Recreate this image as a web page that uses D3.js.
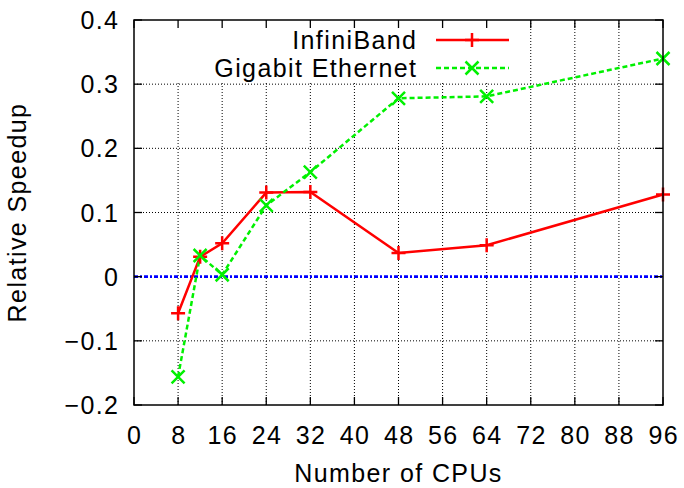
<!DOCTYPE html>
<html><head><meta charset="utf-8">
<script src="https://cdn.jsdelivr.net/npm/d3@7"></script>
<style>body{margin:0;background:#fff}svg{display:block}text{font-family:"Liberation Sans",Arial,sans-serif;fill:#000}</style>
</head><body><svg id="c" width="684" height="488"></svg>
<script>
const cpus = [8, 12, 16, 24, 32, 48, 64, 96];
const infiniband = [-0.057, 0.031, 0.052, 0.131, 0.132, 0.037, 0.049, 0.128];
const gigabit = [-0.156, 0.033, 0.003, 0.111, 0.163, 0.278, 0.281, 0.340];
const xTicks = [0, 8, 16, 24, 32, 40, 48, 56, 64, 72, 80, 88, 96];
const yTicks = [-0.2, -0.1, 0, 0.1, 0.2, 0.3, 0.4];
const seriesNames = ["InfiniBand", "Gigabit Ethernet"];

const svg = d3.select("#c");
const L = 134, R = 663, T = 20, B = 405;
const x = d3.scaleLinear().domain([0, 96]).range([L, R]);
const y = d3.scaleLinear().domain([-0.2, 0.4]).range([B, T]);
const FS = 25, LS = 1.4;
const GREEN = "#00f000", RED = "#ff0000";

// grid
const g = svg.append("g");
g.selectAll(".vg").data(xTicks.filter(d => d > 0 && d < 96)).enter().append("line")
  .attr("x1", d => x(d)).attr("x2", d => x(d)).attr("y1", T).attr("y2", B)
  .attr("stroke", "#000").attr("stroke-width", 1).attr("stroke-dasharray", "1,2");
g.selectAll(".hg").data(yTicks.filter(d => d > -0.2 && d < 0.4 && d !== 0)).enter().append("line")
  .attr("x1", L).attr("x2", R).attr("y1", d => y(d)).attr("y2", d => y(d))
  .attr("stroke", "#000").attr("stroke-width", 1).attr("stroke-dasharray", "1,2");

// legend box (opaque)
svg.append("rect").attr("x", L).attr("y", T).attr("width", 512 - L).attr("height", 81 - T).attr("fill", "#fff");

// zero line
svg.append("line").attr("x1", L).attr("x2", R).attr("y1", y(0)).attr("y2", y(0))
  .attr("stroke", "#0000ff").attr("stroke-width", 2.6).attr("stroke-dasharray", "4,2,2,2");

const line = d3.line().x(d => x(d[0])).y(d => y(d[1]));
const ib = cpus.map((c, i) => [c, infiniband[i]]);
const ge = cpus.map((c, i) => [c, gigabit[i]]);

function plus(sel, cx, cy, s, col) {
  sel.append("path").attr("d", `M${cx - s},${cy}H${cx + s}M${cx},${cy - s}V${cy + s}`)
    .attr("stroke", col).attr("stroke-width", 2.5).attr("fill", "none");
}
function cross(sel, cx, cy, s, col) {
  sel.append("path").attr("d", `M${cx - s},${cy - s}L${cx + s},${cy + s}M${cx - s},${cy + s}L${cx + s},${cy - s}`)
    .attr("stroke", col).attr("stroke-width", 2.5).attr("fill", "none");
}

svg.append("path").datum(ib).attr("d", line).attr("fill", "none").attr("stroke", RED).attr("stroke-width", 2.5);
svg.append("path").datum(ge).attr("d", line).attr("fill", "none").attr("stroke", GREEN).attr("stroke-width", 2.5).attr("stroke-dasharray", "5,3");
const mk = svg.append("g");
ib.forEach(d => plus(mk, x(d[0]), y(d[1]), 7, RED));
ge.forEach(d => cross(mk, x(d[0]), y(d[1]), 6.5, GREEN));

// border & ticks
svg.append("rect").attr("x", L).attr("y", T).attr("width", R - L).attr("height", B - T)
  .attr("fill", "none").attr("stroke", "#000").attr("stroke-width", 1.5);
const tk = svg.append("g").attr("stroke", "#000").attr("stroke-width", 1.3);
xTicks.forEach(d => {
  tk.append("line").attr("x1", x(d)).attr("x2", x(d)).attr("y1", B).attr("y2", B - 8);
  tk.append("line").attr("x1", x(d)).attr("x2", x(d)).attr("y1", T).attr("y2", T + 8);
});
yTicks.forEach(d => {
  tk.append("line").attr("x1", L).attr("x2", L + 8).attr("y1", y(d)).attr("y2", y(d));
  tk.append("line").attr("x1", R).attr("x2", R - 8).attr("y1", y(d)).attr("y2", y(d));
});

// tick labels
svg.selectAll(".xl").data(xTicks).enter().append("text")
  .attr("x", d => x(d) + LS / 2).attr("y", 444).attr("text-anchor", "middle")
  .attr("font-size", FS).attr("letter-spacing", LS).text(d => d);
svg.selectAll(".yl").data(yTicks).enter().append("text")
  .attr("x", 118 + LS).attr("y", d => y(d) + 9).attr("text-anchor", "end")
  .attr("font-size", FS).attr("letter-spacing", LS).text(d => d3.format("")(d));

// axis titles
svg.append("text").attr("x", (L + R) / 2).attr("y", 482).attr("text-anchor", "middle")
  .attr("font-size", FS).attr("letter-spacing", LS).text("Number of CPUs");
svg.append("text").attr("transform", `translate(26,${(T + B) / 2}) rotate(-90)`).attr("text-anchor", "middle")
  .attr("font-size", FS).attr("letter-spacing", LS).text("Relative Speedup");

// legend
const ly = [40, 68];
seriesNames.forEach((n, i) => {
  svg.append("text").attr("x", 416 + LS).attr("y", ly[i] + 9).attr("text-anchor", "end")
    .attr("font-size", FS).attr("letter-spacing", LS).text(n);
});
svg.append("line").attr("x1", 436).attr("x2", 509).attr("y1", ly[0]).attr("y2", ly[0]).attr("stroke", RED).attr("stroke-width", 2.5);
plus(svg, 472, ly[0], 7, RED);
svg.append("line").attr("x1", 436).attr("x2", 509).attr("y1", ly[1]).attr("y2", ly[1]).attr("stroke", GREEN).attr("stroke-width", 2.5).attr("stroke-dasharray", "5,3");
cross(svg, 472, ly[1], 6.5, GREEN);
</script></body></html>
